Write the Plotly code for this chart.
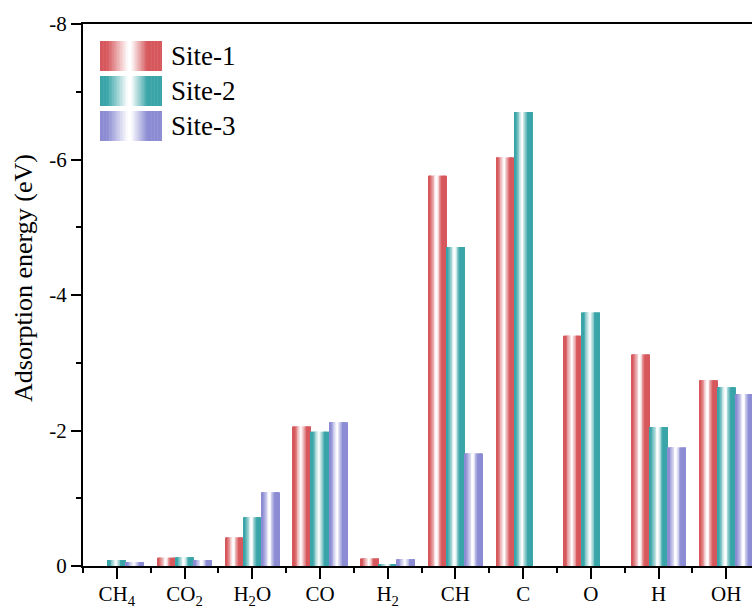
import plotly.graph_objects as go

# ---------------- data ----------------
categories = ["CH<sub>4</sub>", "CO<sub>2</sub>", "H<sub>2</sub>O", "CO", "H<sub>2</sub>",
              "CH", "C", "O", "H", "OH"]
site1 = [0.00, -0.12, -0.42, -2.06, -0.11, -5.76, -6.03, -3.40, -3.12, -2.74]
site2 = [-0.09, -0.13, -0.72, -1.98, -0.02, -4.71, -6.70, -3.74, -2.05, -2.64]
site3 = [-0.06, -0.09, -1.09, -2.12, -0.10, -1.66, 0.00, 0.00, -1.75, -2.54]
series_names = ["Site-1", "Site-2", "Site-3"]
y_ticks = [0, -2, -4, -6, -8]
y_ticktext = ["0", "-2", "-4", "-6", "-8"]

# ---------------- style ----------------
colors = [(214, 88, 92), (58, 165, 168), (140, 140, 212)]
FONT = "Liberation Serif"
W, H = 752, 608
ML, MR, MT, MB = 83, 0, 24, 42
K = 22  # slices per bar to emulate the gradient fill
group_w = 0.8
bar_w = group_w / 3
WHITE = (255, 255, 255)


def grad(c, t):
    stops = [(0.0, c), (0.12, c), (0.45, WHITE), (0.5, WHITE), (0.76, c), (1.0, c)]
    for (t0, c0), (t1, c1) in zip(stops[:-1], stops[1:]):
        if t0 <= t <= t1:
            f = (t - t0) / (t1 - t0) if t1 > t0 else 0
            r = [round(a + (b - a) * f) for a, b in zip(c0, c1)]
            return "rgb(%d,%d,%d)" % tuple(r)
    return "rgb(%d,%d,%d)" % c


xs = list(range(len(categories)))
fig = go.Figure()
for s, vals in enumerate([site1, site2, site3]):
    base_off = -group_w / 2 + s * bar_w
    sw = bar_w / K
    for k in range(K):
        t = (k + 0.5) / K
        width = sw * 1.25 if k < K - 1 else sw
        fig.add_trace(go.Bar(
            x=xs, y=vals, offset=base_off + k * sw, width=width,
            marker=dict(color=grad(colors[s], t), line=dict(width=0)),
            showlegend=False, hoverinfo="skip", name=series_names[s]))

# legend built from shapes + annotations
pw = W - ML - MR
ph = H - MT - MB


def px_x(p):
    return (p - ML) / pw


def px_y(p):
    return (H - MB - p) / ph


shapes = []
annotations = []
sw_left, sw_right = 100, 162
tops = [41, 76, 111]
NS = 40
for s in range(3):
    y0, y1 = tops[s], tops[s] + 30
    step = (sw_right - sw_left) / NS
    for k in range(NS):
        t = (k + 0.5) / NS
        x0 = sw_left + k * step
        x1 = x0 + step * (1.3 if k < NS - 1 else 1.0)
        shapes.append(dict(type="rect", xref="paper", yref="paper",
                           x0=px_x(x0), x1=px_x(x1), y0=px_y(y1), y1=px_y(y0),
                           fillcolor=grad(colors[s], t), line=dict(width=0), layer="above"))
    annotations.append(dict(text=series_names[s], xref="paper", yref="paper",
                            x=px_x(169), y=px_y((y0 + y1) / 2), xanchor="left", yanchor="middle",
                            showarrow=False, font=dict(family=FONT, size=27, color="black")))

annotations.append(dict(text="Adsorption energy (eV)", xref="paper", yref="paper",
                        x=px_x(23), y=px_y(278), xanchor="center", yanchor="middle",
                        textangle=-90, showarrow=False,
                        font=dict(family=FONT, size=26, color="black")))

fig.update_layout(
    width=W, height=H, margin=dict(l=ML, r=MR, t=MT, b=MB, autoexpand=False),
    barmode="overlay", plot_bgcolor="white", paper_bgcolor="white",
    shapes=shapes, annotations=annotations, showlegend=False,
    font=dict(family=FONT, color="black"),
)
fig.update_xaxes(
    range=[-0.5, 9.38], tickmode="array", tickvals=xs, ticktext=categories,
    ticks="outside", ticklen=11, tickwidth=2, tickcolor="black",
    showline=True, linewidth=2, linecolor="black", mirror=True,
    showgrid=False, zeroline=False, tickfont=dict(family=FONT, size=21),
    automargin=False, ticklabelstandoff=-3,
    minor=dict(tickmode="linear", tick0=-0.5, dtick=1, ticks="outside", ticklen=5,
               tickwidth=2, tickcolor="black", showgrid=False),
)
fig.update_yaxes(
    range=[0, -8], tickmode="array", tickvals=y_ticks, ticktext=y_ticktext,
    ticks="outside", ticklen=10, tickwidth=2, tickcolor="black",
    showline=True, linewidth=2, linecolor="black",
    showgrid=False, zeroline=False, tickfont=dict(family=FONT, size=21),
    automargin=False,
    minor=dict(tickmode="linear", tick0=0, dtick=1, ticks="outside", ticklen=5,
               tickwidth=2, tickcolor="black", showgrid=False),
)

fig.write_html("out.html")
